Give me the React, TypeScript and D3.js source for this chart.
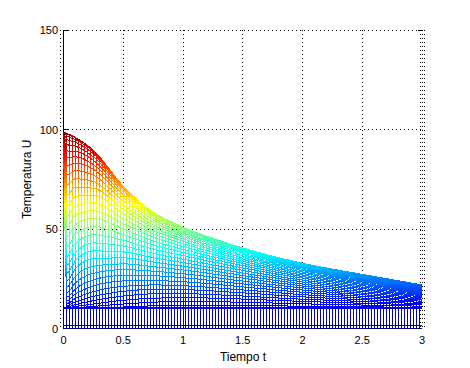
import React from 'react';
import * as d3 from 'd3';

const TIMES = [0, 0.03, 0.1, 0.25, 0.5, 0.75, 1, 1.5, 2, 2.5, 3];

// Temperature of each spatial node (rows) at TIMES (columns), lowest node first
const CURVES: number[][] = [
  [98.5, 10.0, 10.1, 10.3, 10.8, 11.4, 11.7, 11.6, 11.2, 10.9, 10.6],
  [98.5, 10.1, 10.4, 11.1, 12.3, 13.2, 13.6, 13.2, 12.4, 11.8, 11.2],
  [98.5, 10.3, 11.0, 12.3, 14.2, 15.2, 15.5, 14.8, 13.6, 12.7, 11.9],
  [98.5, 10.8, 12.0, 14.0, 16.3, 17.4, 17.5, 16.3, 14.7, 13.6, 12.5],
  [98.5, 11.5, 13.4, 16.1, 18.7, 19.6, 19.5, 17.9, 15.9, 14.5, 13.1],
  [98.5, 12.6, 15.1, 18.5, 21.2, 21.9, 21.5, 19.4, 17.0, 15.3, 13.7],
  [98.5, 14.0, 17.3, 21.3, 23.9, 24.1, 23.5, 20.9, 18.2, 16.2, 14.3],
  [98.5, 15.9, 19.9, 24.4, 26.7, 26.5, 25.5, 22.4, 19.3, 17.0, 14.8],
  [98.5, 18.2, 22.9, 27.7, 29.6, 28.8, 27.5, 23.8, 20.4, 17.8, 15.4],
  [98.5, 21.0, 26.3, 31.3, 32.5, 31.1, 29.4, 25.3, 21.4, 18.6, 16.0],
  [98.5, 24.2, 30.0, 35.1, 35.5, 33.4, 31.3, 26.6, 22.4, 19.4, 16.5],
  [98.5, 27.9, 34.1, 39.0, 38.5, 35.6, 33.1, 27.9, 23.4, 20.1, 17.0],
  [98.5, 31.9, 38.2, 43.0, 41.4, 37.8, 34.8, 29.2, 24.3, 20.8, 17.5],
  [98.5, 36.3, 42.8, 47.1, 44.3, 39.9, 36.6, 30.4, 25.3, 21.5, 18.0],
  [98.5, 41.1, 47.4, 51.2, 47.2, 42.0, 38.2, 31.6, 26.1, 22.2, 18.4],
  [98.5, 46.1, 52.2, 55.3, 50.0, 44.0, 39.7, 32.7, 26.9, 22.8, 18.8],
  [98.5, 51.3, 57.0, 59.3, 52.7, 45.9, 41.2, 33.7, 27.7, 23.4, 19.2],
  [98.5, 56.6, 61.7, 63.2, 55.2, 47.6, 42.6, 34.7, 28.4, 23.9, 19.6],
  [98.5, 61.9, 66.4, 67.0, 57.7, 49.3, 43.9, 35.6, 29.1, 24.4, 20.0],
  [98.5, 67.1, 70.9, 70.5, 59.9, 50.8, 45.1, 36.4, 29.7, 24.9, 20.3],
  [98.5, 72.3, 75.3, 73.9, 62.0, 52.2, 46.2, 37.2, 30.3, 25.3, 20.6],
  [98.5, 77.2, 79.3, 77.1, 64.0, 53.5, 47.2, 37.9, 30.8, 25.7, 20.9],
  [98.5, 81.8, 83.1, 80.0, 65.7, 54.7, 48.1, 38.5, 31.3, 26.1, 21.1],
  [98.5, 85.7, 86.3, 82.4, 67.2, 55.7, 48.8, 39.0, 31.7, 26.4, 21.3],
  [98.5, 89.2, 89.1, 84.5, 68.5, 56.5, 49.5, 39.5, 32.0, 26.6, 21.5],
  [98.5, 92.4, 91.6, 86.3, 69.6, 57.2, 50.0, 39.8, 32.3, 26.8, 21.6],
  [98.5, 94.9, 93.6, 87.8, 70.4, 57.8, 50.5, 40.1, 32.5, 27.0, 21.8],
  [98.5, 96.7, 95.0, 88.8, 71.1, 58.2, 50.8, 40.3, 32.7, 27.1, 21.8],
  [98.5, 97.7, 95.8, 89.5, 71.4, 58.4, 51.0, 40.5, 32.8, 27.2, 21.9],
  [98.5, 98.0, 96.0, 89.6, 71.5, 58.5, 51.0, 40.5, 32.8, 27.2, 21.9],
];

// Flat mesh rows (constant temperature)
const FLAT_LEVELS = [10.4, 10, 1.5, 0];

const TIME_STEP = 0.025;
const T_MAX = 3;
const X_TICKS = [0, 0.5, 1, 1.5, 2, 2.5, 3];
const X_TICK_LABELS = ['0', '0.5', '1', '1.5', '2', '2.5', '3'];
const Y_TICKS = [0, 50, 100, 150];
const Y_TICK_LABELS = ['0', '50', '100', '150'];
const C_LIMITS = [0, 100];
const JET_STOPS: [number, string][] = [
  [0, '#000080'],
  [0.125, '#0000ff'],
  [0.375, '#00ffff'],
  [0.625, '#ffff00'],
  [0.875, '#ff0000'],
  [1, '#800000'],
];

const W = 470;
const H = 368;
const FONT = '"Liberation Sans", Arial, Helvetica, sans-serif';

export default function App() {
  const x = d3.scaleLinear().domain([0, 3]).range([63.5, 422]);
  const y = d3.scaleLinear().domain([0, 150]).range([328.5, 30]);

  const line = d3
    .line<[number, number]>()
    .x((d) => x(d[0]))
    .y((d) => y(d[1]))
    .curve(d3.curveMonotoneX);

  const top = CURVES[CURVES.length - 1];
  const area = d3
    .area<[number, number]>()
    .x((d) => x(d[0]))
    .y0(y(0))
    .y1((d) => y(d[1]))
    .curve(d3.curveMonotoneX);
  const topPts: [number, number][] = TIMES.map((t, i) => [t, top[i]]);

  const steps = d3.range(0, T_MAX + 1e-9, TIME_STEP);

  return (
    <svg
      width={W}
      height={H}
      style={{ position: 'absolute', left: 0, top: 0, background: '#fff' }}
      fontFamily={FONT}
    >
      <defs>
        <linearGradient
          id="jet"
          gradientUnits="userSpaceOnUse"
          x1={0}
          x2={0}
          y1={y(C_LIMITS[0])}
          y2={y(C_LIMITS[1])}
        >
          {JET_STOPS.map(([o, c]) => (
            <stop key={o} offset={o} stopColor={c} />
          ))}
        </linearGradient>
        <clipPath id="meshClip">
          <path d={area(topPts) || ''} />
        </clipPath>
      </defs>

      {/* dotted grid */}
      <g stroke="#000" strokeWidth={1} strokeDasharray="1,3" shapeRendering="crispEdges" fill="none">
        {Y_TICKS.filter((v) => v > 0).map((v) => (
          <line key={'gy' + v} x1={x(0)} x2={x(3)} y1={y(v)} y2={y(v)} />
        ))}
        {X_TICKS.filter((v) => v > 0).map((v) => (
          <line key={'gx' + v} x1={x(v)} x2={x(v)} y1={y(150)} y2={y(0)} />
        ))}
        <line x1={x(3) - 2} x2={x(3) - 2} y1={y(150)} y2={y(0)} />
        <line x1={x(3) + 2} x2={x(3) + 2} y1={y(150)} y2={y(0)} />
        <line x1={x(0) - 3} x2={x(0) - 3} y1={y(150)} y2={y(0)} />
      </g>

      {/* solid axis line and ticks */}
      <g stroke="#000" strokeWidth={1} shapeRendering="crispEdges">
        <line x1={x(0)} x2={x(0)} y1={y(150)} y2={y(0)} />
        {Y_TICKS.map((v) => (
          <line key={'ty' + v} x1={x(0)} x2={x(0) + 4} y1={y(v)} y2={y(v)} />
        ))}
        <line x1={x(3) - 4} x2={x(3)} y1={y(150)} y2={y(150)} />
      </g>

      {/* mesh: lines of constant time */}
      <g clipPath="url(#meshClip)" stroke="url(#jet)" strokeWidth={1} shapeRendering="crispEdges">
        {steps.map((t, i) => (
          <line key={'v' + i} x1={x(t)} x2={x(t)} y1={y(0)} y2={y(100)} />
        ))}
      </g>

      {/* mesh: lines of constant position */}
      <g fill="none" stroke="url(#jet)" strokeWidth={1} shapeRendering="crispEdges">
        {CURVES.map((row, k) => (
          <path key={'c' + k} d={line(TIMES.map((t, i) => [t, row[i]] as [number, number])) || ''} />
        ))}
        {FLAT_LEVELS.map((v, k) => (
          <line key={'f' + k} x1={x(0)} x2={x(T_MAX)} y1={y(v)} y2={y(v)} />
        ))}
      </g>

      {/* tick labels */}
      <g fontSize={11} fill="#000">
        {X_TICKS.map((v, i) => (
          <text key={'xl' + v} x={x(v)} y={344} textAnchor="middle">
            {X_TICK_LABELS[i]}
          </text>
        ))}
        {Y_TICKS.map((v, i) => (
          <text key={'yl' + v} x={58} y={y(v) + 4} textAnchor="end">
            {Y_TICK_LABELS[i]}
          </text>
        ))}
      </g>

      <text x={243} y={361} fontSize={12} textAnchor="middle" fill="#000">
        Tiempo t
      </text>
      <text
        transform={`translate(31,${y(75)}) rotate(-90)`}
        fontSize={12}
        textAnchor="middle"
        fill="#000"
      >
        Temperatura U
      </text>
    </svg>
  );
}
